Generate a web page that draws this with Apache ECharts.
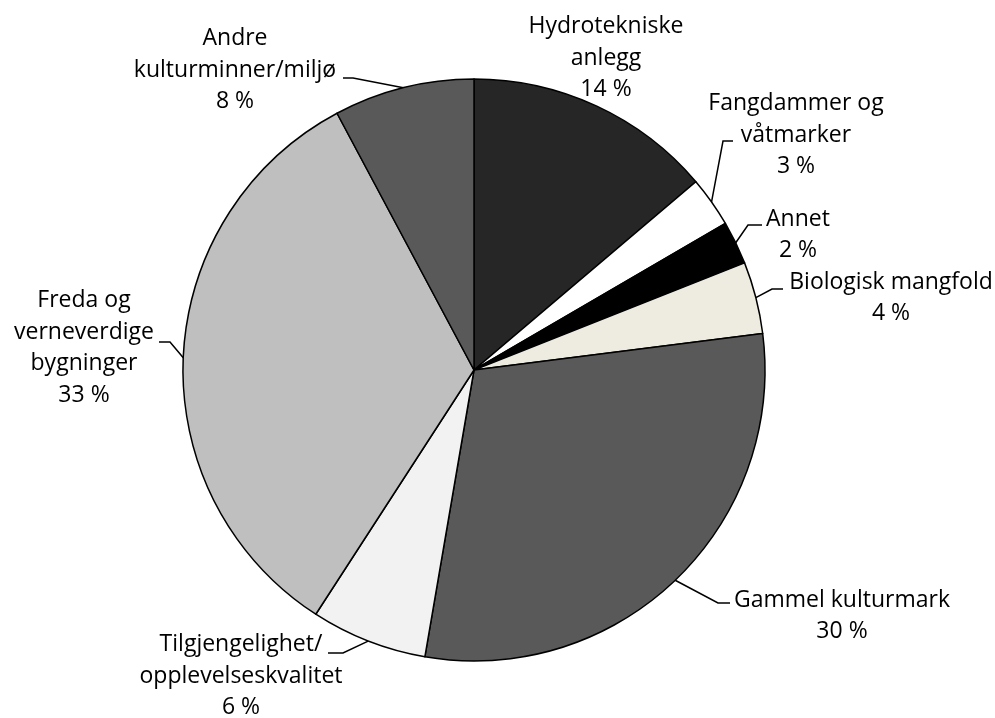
<!DOCTYPE html>
<html>
<head>
<meta charset="utf-8">
<script src="https://cdn.jsdelivr.net/npm/echarts@6/dist/echarts.min.js"></script>
<style>
html,body{margin:0;padding:0;background:#fff;}
#chart{width:995px;height:718px;}
</style>
</head>
<body>
<div id="chart"></div>
<script>
// Data
const categories = [
  'Hydrotekniske\nanlegg',
  'Fangdammer og\nvåtmarker',
  'Annet',
  'Biologisk mangfold',
  'Gammel kulturmark',
  'Tilgjengelighet/\nopplevelseskvalitet',
  'Freda og\nverneverdige\nbygninger',
  'Andre\nkulturminner/miljø'
];
const values = [13.8, 2.8, 2.4, 4.0, 29.7, 6.45, 33.05, 7.8];
const colors = ['#262626', '#ffffff', '#000000', '#eeece1', '#595959', '#f2f2f2', '#bfbfbf', '#595959'];

// Label layout (text block centers and leader bend / end points)
const labelPos = [
  [606, 58], [796, 135], [798, 235], [891, 298],
  [842, 616], [241, 676], [84, 348], [235, 70]
];
const leaderPts = [
  null,
  [[723, 141], [733, 141]],
  [[748, 225], [762, 225]],
  [[772, 289], [783, 289]],
  [[718, 603], [730, 603]],
  [[343, 653], [328, 653]],
  [[170, 342], [159, 342]],
  [[353, 78], [343, 78]]
];

const chart = echarts.init(document.getElementById('chart'), null, {renderer: 'canvas'});
const option = {
  backgroundColor: '#ffffff',
  animation: false,
  series: [{
    type: 'pie',
    center: [474, 370],
    radius: 291,
    startAngle: 90,
    clockwise: true,
    avoidLabelOverlap: false,
    data: categories.map((c, i) => ({
      name: c,
      value: values[i],
      itemStyle: {color: colors[i]},
      labelLine: {show: i !== 0}
    })),
    itemStyle: {borderColor: '#000', borderWidth: 1.5},
    label: {
      show: true,
      position: 'outside',
      fontFamily: 'Open Sans',
      fontSize: 23,
      lineHeight: 31.5,
      color: '#000',
      align: 'center',
      formatter: p => p.name + '\n' + Math.round(p.percent) + ' %'
    },
    labelLine: {
      show: true,
      length: 10,
      length2: 10,
      lineStyle: {color: '#000', width: 1.5}
    },
    emphasis: {disabled: true},
    labelLayout: function (params) {
      const i = params.dataIndex;
      const out = {
        x: labelPos[i][0],
        y: labelPos[i][1],
        align: 'center',
        verticalAlign: 'middle',
        hideOverlap: false,
        moveOverlap: null
      };
      if (leaderPts[i] && params.labelLinePoints) {
        out.labelLinePoints = [params.labelLinePoints[0], leaderPts[i][0], leaderPts[i][1]];
      }
      return out;
    }
  }]
};
chart.setOption(option);
</script>
</body>
</html>
